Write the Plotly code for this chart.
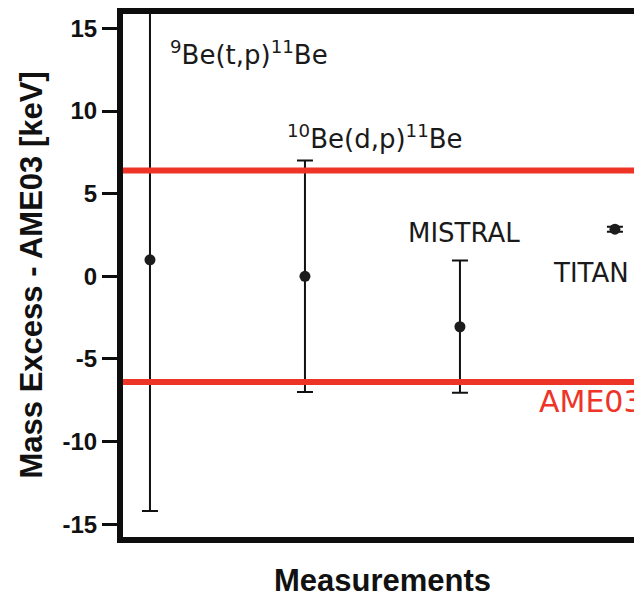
import plotly.graph_objects as go

# Data
measurements = ["9Be(t,p)11Be", "10Be(d,p)11Be", "MISTRAL", "TITAN"]
x_pos = [1, 2, 3, 4]
mass_excess_diff = [1.0, 0.0, -3.05, 2.85]
errors = [15.2, 7.0, 4.0, 0.15]
ame03_error = 6.4

label_texts = ["<sup>9</sup>Be(t,p)<sup>11</sup>Be", "<sup>10</sup>Be(d,p)<sup>11</sup>Be", "MISTRAL", "TITAN"]
label_x = [1.115, 1.87, 2.65, 3.59]
label_y = [13.5, 8.4, 2.6, 0.2]

y_ticks = [-15, -10, -5, 0, 5, 10, 15]
y_tick_text = ["-15", "-10", "-5", "0", "5", "10", "15"]

fig = go.Figure()

fig.add_trace(go.Scatter(
    x=x_pos, y=mass_excess_diff, mode="markers",
    marker=dict(size=11, color="#1c1c1c"),
    error_y=dict(type="data", array=errors, visible=True, thickness=2, width=8, color="#111111"),
    showlegend=False, hoverinfo="skip",
))

for yv in (ame03_error, -ame03_error):
    fig.add_shape(type="line", xref="paper", x0=0, x1=1, yref="y", y0=yv, y1=yv,
                  line=dict(color="#ee3427", width=6), layer="above")

for t, xv, yv in zip(label_texts, label_x, label_y):
    fig.add_annotation(x=xv, y=yv, text=t, showarrow=False, xanchor="left", yanchor="middle",
                       font=dict(family="DejaVu Sans", size=26, color="#1a1a1a"))

fig.add_annotation(x=3.5, y=-7.6, text="AME03", showarrow=False, xanchor="left", yanchor="middle",
                   font=dict(family="DejaVu Sans", size=30, color="#ee3427"))

fig.add_annotation(xref="paper", yref="paper", x=0.5, xshift=4, y=0, yshift=-43, text="<b>Measurements</b>",
                   showarrow=False, xanchor="center", yanchor="middle",
                   font=dict(family="Liberation Sans", size=31, color="#111111"))
fig.add_annotation(xref="paper", yref="paper", x=0, xshift=-92, y=0.5, text="<b>Mass Excess - AME03 [keV]</b>",
                   showarrow=False, textangle=-90, xanchor="center", yanchor="middle",
                   font=dict(family="Liberation Sans", size=31, color="#111111"))

fig.update_xaxes(range=[0.826, 4.123], showticklabels=False, ticks="", showgrid=False, zeroline=False,
                 showline=True, linewidth=6, linecolor="#0d0d0d", mirror=True)
fig.update_yaxes(range=[-15.77, 15.87], tickvals=y_ticks, ticktext=y_tick_text,
                 ticks="outside", ticklen=15, tickwidth=3,
                 tickcolor="#0d0d0d", showgrid=False, zeroline=False,
                 showline=True, linewidth=6, linecolor="#0d0d0d", mirror=False,
                 tickfont=dict(family="Liberation Sans", size=24, color="#111111", weight="bold"))

fig.update_layout(width=634, height=594, margin=dict(l=123, r=0, t=14, b=57, autoexpand=False),
                  plot_bgcolor="white", paper_bgcolor="white")

fig.write_html("out.html", config={"displayModeBar": False},
               post_script="document.body.style.margin='0';document.body.style.overflow='hidden';")
